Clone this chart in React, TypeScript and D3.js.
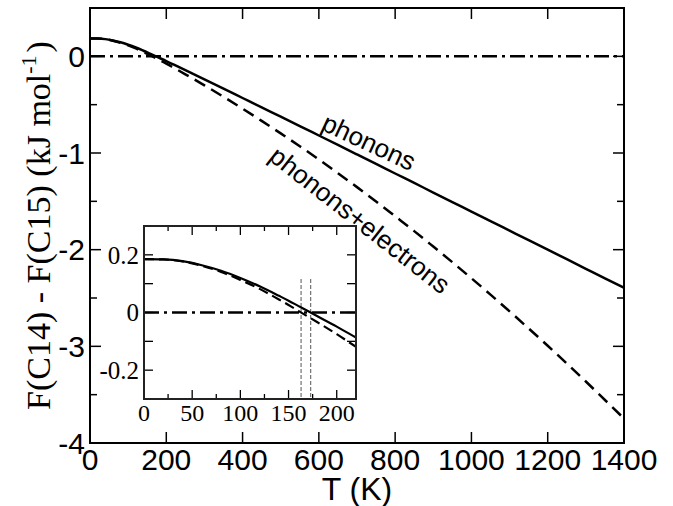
import React from "react";
import * as d3 from "d3";

const temps = [0, 20, 40, 60, 80, 100, 120, 140, 150, 160, 170, 180, 200, 220, 250, 300, 350, 400, 450, 500, 550, 600, 650, 700, 750, 800, 850, 900, 950, 1000, 1050, 1100, 1150, 1200, 1250, 1300, 1350, 1400];
const phonons = [0.185, 0.184, 0.178, 0.164, 0.145, 0.12, 0.091, 0.058, 0.041, 0.023, 0.005, -0.013, -0.049, -0.087, -0.143, -0.238, -0.334, -0.431, -0.528, -0.624, -0.721, -0.819, -0.917, -1.015, -1.113, -1.212, -1.31, -1.409, -1.507, -1.606, -1.704, -1.803, -1.902, -2.0, -2.099, -2.198, -2.297, -2.395];
const phononsElectrons = [0.185, 0.184, 0.177, 0.162, 0.141, 0.113, 0.082, 0.045, 0.026, 0.006, -0.014, -0.034, -0.075, -0.119, -0.186, -0.3, -0.419, -0.541, -0.668, -0.797, -0.93, -1.067, -1.209, -1.353, -1.501, -1.654, -1.808, -1.968, -2.13, -2.296, -2.465, -2.638, -2.815, -2.994, -3.177, -3.364, -3.555, -3.747];

const mainXTicks = [0, 200, 400, 600, 800, 1000, 1200, 1400];
const mainYTicks = [-4, -3.5, -3, -2.5, -2, -1.5, -1, -0.5, 0, 0.5];
const mainYLabels = [-4, -3, -2, -1, 0];
const insetXTicks = [0, 25, 50, 75, 100, 125, 150, 175, 200];
const insetXLabels = [0, 50, 100, 150, 200];
const insetYTicks = [-0.3, -0.2, -0.1, 0, 0.1, 0.2, 0.3];
const insetYLabels = [-0.2, 0, 0.2];
const crossingTemps = [163, 173];

const W = 673;
const H = 506;
const M = { left: 90, right: 624, top: 8, bottom: 443 };
const I = { left: 144, right: 356, top: 226, bottom: 399 };

const sans = "'Liberation Sans', Arial, Helvetica, sans-serif";
const serif = "'Liberation Serif', 'Times New Roman', serif";

export default function App() {
  const x = d3.scaleLinear().domain([0, 1400]).range([M.left, M.right]);
  const y = d3.scaleLinear().domain([-4, 0.5]).range([M.bottom, M.top]);
  const xi = d3.scaleLinear().domain([0, 220]).range([I.left, I.right]);
  const yi = d3.scaleLinear().domain([-0.3, 0.3]).range([I.bottom, I.top]);

  const pts = (vals: number[]) => temps.map((t, i) => [t, vals[i]] as [number, number]);
  const mainLine = d3.line<[number, number]>().x((d) => x(d[0])).y((d) => y(d[1])).curve(d3.curveMonotoneX);
  const insetLine = d3.line<[number, number]>().x((d) => xi(d[0])).y((d) => yi(d[1])).curve(d3.curveMonotoneX);
  const insetPts = (vals: number[]) => pts(vals).filter((d) => d[0] <= 250);

  return (
    <svg width={W} height={H} style={{ position: "absolute", left: 0, top: 0, background: "#fff" }}>
      <defs>
        <clipPath id="mainClip">
          <rect x={M.left} y={M.top} width={M.right - M.left} height={M.bottom - M.top} />
        </clipPath>
        <clipPath id="insetClip">
          <rect x={I.left} y={I.top} width={I.right - I.left} height={I.bottom - I.top} />
        </clipPath>
      </defs>
      <rect x={0} y={0} width={W} height={H} fill="#fff" />

      {/* main plot curves */}
      <g clipPath="url(#mainClip)">
        <line x1={M.left} x2={M.right} y1={y(0)} y2={y(0)} stroke="#000" strokeWidth={2.5} strokeDasharray="15,5,3,5" />
        <path d={mainLine(pts(phononsElectrons)) || ""} fill="none" stroke="#000" strokeWidth={2.5} strokeDasharray="12,7" />
        <path d={mainLine(pts(phonons)) || ""} fill="none" stroke="#000" strokeWidth={2.5} />
      </g>

      {/* main ticks */}
      {mainXTicks.filter((t) => t > 0 && t < 1400).map((t) => (
        <g key={"mx" + t}>
          <line x1={x(t)} x2={x(t)} y1={M.bottom} y2={M.bottom - 11} stroke="#000" strokeWidth={1.5} />
          <line x1={x(t)} x2={x(t)} y1={M.top} y2={M.top + 11} stroke="#000" strokeWidth={1.5} />
        </g>
      ))}
      {mainYTicks.filter((t) => t > -4 && t < 0.5).map((t) => {
        const len = Number.isInteger(t) ? 11 : 7;
        return (
          <g key={"my" + t}>
            <line x1={M.left} x2={M.left + len} y1={y(t)} y2={y(t)} stroke="#000" strokeWidth={1.5} />
            <line x1={M.right} x2={M.right - len} y1={y(t)} y2={y(t)} stroke="#000" strokeWidth={1.5} />
          </g>
        );
      })}
      <rect x={M.left} y={M.top} width={M.right - M.left} height={M.bottom - M.top} fill="none" stroke="#000" strokeWidth={2} />

      {/* main tick labels */}
      {mainXTicks.map((t) => (
        <text key={"mxl" + t} x={x(t)} y={470} textAnchor="middle" fontFamily={sans} fontSize={30} fill="#000">
          {t}
        </text>
      ))}
      {mainYLabels.map((t) => (
        <text key={"myl" + t} x={85} y={y(t)} dy="0.35em" textAnchor="end" fontFamily={sans} fontSize={30} fill="#000">
          {t}
        </text>
      ))}

      {/* axis titles */}
      <text x={(M.left + M.right) / 2} y={500} textAnchor="middle" fontFamily={sans} fontSize={32} fill="#000">
        T (K)
      </text>
      <text transform={`translate(50, ${(M.top + M.bottom) / 2}) rotate(-90)`} textAnchor="middle" fontFamily={serif} fontSize={34} fill="#000">
        F(C14) - F(C15) (kJ mol<tspan dy={-14} fontSize={22}>-1</tspan>
        <tspan dy={14} dx={3}>)</tspan>
      </text>

      {/* curve labels */}
      <text transform="translate(369,142) rotate(25)" textAnchor="middle" dy="0.35em" fontFamily={sans} fontSize={26} fill="#000">
        phonons
      </text>
      <text transform="translate(360,220) rotate(38)" textAnchor="middle" dy="0.35em" fontFamily={sans} fontSize={26} fill="#000">
        phonons+electrons
      </text>

      {/* inset */}
      <rect x={I.left} y={I.top} width={I.right - I.left} height={I.bottom - I.top} fill="#fff" />
      <g clipPath="url(#insetClip)">
        {crossingTemps.map((t) => (
          <line key={"v" + t} x1={xi(t)} x2={xi(t)} y1={279} y2={I.bottom} stroke="#555" strokeWidth={1} strokeDasharray="4,2" />
        ))}
        <line x1={I.left} x2={I.right} y1={yi(0)} y2={yi(0)} stroke="#000" strokeWidth={2.5} strokeDasharray="15,5,3,5" />
        <path d={insetLine(insetPts(phononsElectrons)) || ""} fill="none" stroke="#000" strokeWidth={2.2} strokeDasharray="10,5" />
        <path d={insetLine(insetPts(phonons)) || ""} fill="none" stroke="#000" strokeWidth={2.2} />
      </g>
      {insetXTicks.filter((t) => t > 0).map((t) => {
        const len = t % 50 === 0 ? 9 : 5;
        return (
          <g key={"ix" + t}>
            <line x1={xi(t)} x2={xi(t)} y1={I.bottom} y2={I.bottom - len} stroke="#000" strokeWidth={1.3} />
            <line x1={xi(t)} x2={xi(t)} y1={I.top} y2={I.top + len} stroke="#000" strokeWidth={1.3} />
          </g>
        );
      })}
      {insetYTicks.filter((t) => t > -0.3 && t < 0.3).map((t) => (
        <g key={"iy" + t}>
          <line x1={I.left} x2={I.left + 9} y1={yi(t)} y2={yi(t)} stroke="#000" strokeWidth={1.3} />
          <line x1={I.right} x2={I.right - 9} y1={yi(t)} y2={yi(t)} stroke="#000" strokeWidth={1.3} />
        </g>
      ))}
      <rect x={I.left} y={I.top} width={I.right - I.left} height={I.bottom - I.top} fill="none" stroke="#222" strokeWidth={2} />
      {insetXLabels.map((t) => (
        <text key={"ixl" + t} x={xi(t)} y={421} textAnchor="middle" fontFamily={serif} fontSize={24} fill="#000">
          {t}
        </text>
      ))}
      {insetYLabels.map((t) => (
        <text key={"iyl" + t} x={139} y={yi(t)} dy="0.35em" textAnchor="end" fontFamily={serif} fontSize={25} fill="#000">
          {t}
        </text>
      ))}
    </svg>
  );
}
